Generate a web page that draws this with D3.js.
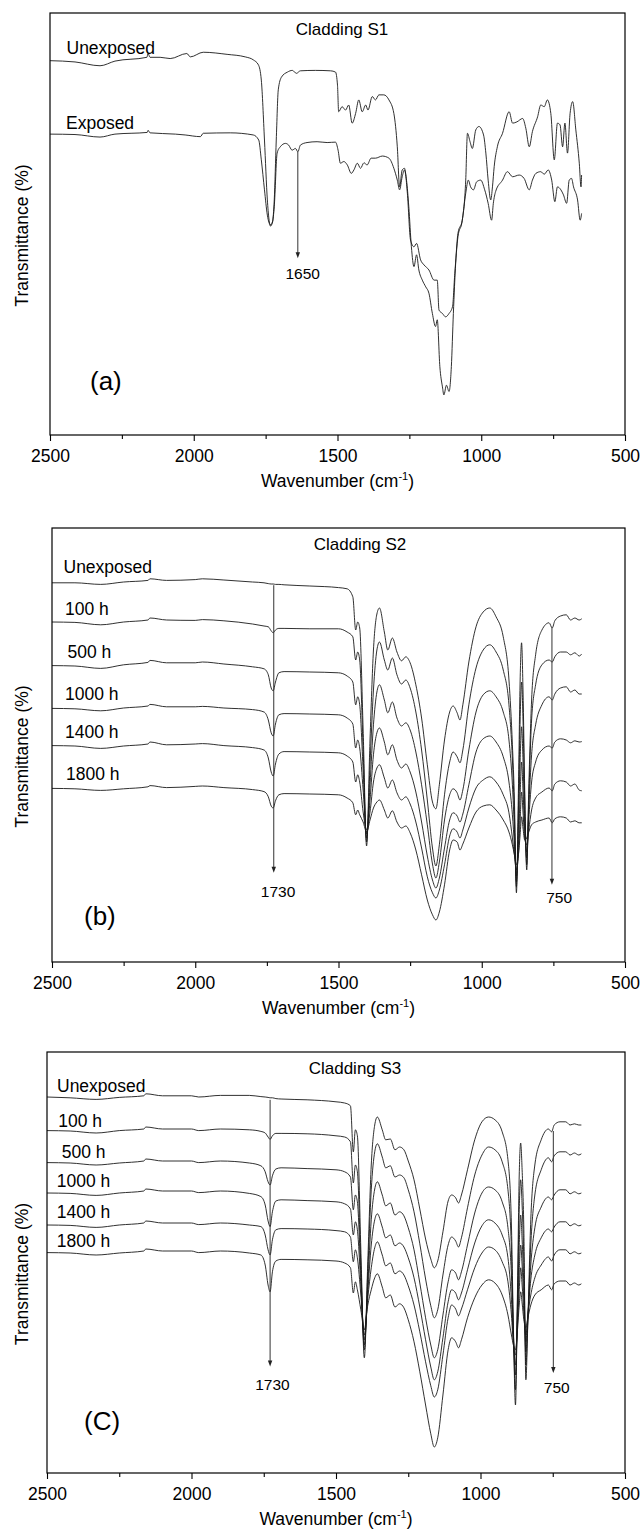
<!DOCTYPE html>
<html>
<head>
<meta charset="utf-8">
<script src="https://cdn.jsdelivr.net/npm/d3@7"></script>
<style>
  body { margin: 0; background: #fff; }
  svg text { fill: #000; }
</style>
</head>
<body>
<div id="chart"></div>
<script>
/* CONSTANTS AND GLOBALS */
const width = 640,
  height = 1530,
  fontFamily = '"Liberation Sans", Arial, Helvetica, sans-serif',
  traceColor = "#1a1a1a";

let svg;

/* DATA */
// x axis ticks (cm-1)
const majorTicks = [2500, 2000, 1500, 1000, 500];
const minorTicks = [2250, 1750, 1250, 750];

// Cladding S1 : [wavenumber, transmittance]
const s1Unexposed = [[2500,88.7],[2413,88.4],[2326,87.5],[2274,88.6],[2163,89.5],[2159,90.4],[2152,89.5],[2117,89.5],[2082,89.2],[2024,90.4],[2012,89.6],[1967,90.7],[1884,90.2],[1821,89.6],[1793,88.9],[1775,87.7],[1765,84.1],[1754,69.9],[1744,55.7],[1733,49.5],[1726,50.5],[1720,55.7],[1713,69.9],[1706,81.8],[1695,84.8],[1674,86.0],[1657,86.4],[1643,85.7],[1629,86.3],[1577,86.4],[1524,86.3],[1507,86.0],[1500,82.9],[1496,76.6],[1484,77.8],[1472,77.0],[1461,78.2],[1449,73.9],[1437,76.2],[1426,79.4],[1414,76.6],[1402,78.2],[1394,77.0],[1379,80.2],[1368,79.4],[1356,80.6],[1339,80.6],[1321,79.4],[1304,76.2],[1292,68.3],[1284,58.8],[1275,62.8],[1267,63.2],[1257,57.3],[1246,46.2],[1234,44.6],[1225,45.4],[1211,41.5],[1199,40.3],[1182,39.1],[1164,36.7],[1153,36.7],[1147,29.6],[1135,28.8],[1124,28.0],[1112,28.8],[1100,30.4],[1092,38.3],[1081,47.0],[1066,50.9],[1054,60.4],[1048,71.5],[1039,69.5],[1031,67.9],[1019,72.3],[1008,73.1],[992,71.1],[984,66.8],[976,60.4],[967,55.7],[961,58.8],[955,63.6],[944,68.3],[926,71.5],[903,76.6],[891,73.9],[876,74.2],[856,75.0],[845,72.7],[833,68.3],[822,71.9],[804,75.4],[793,78.2],[781,77.8],[770,79.4],[758,76.2],[746,65.2],[735,73.9],[726,73.5],[717,68.3],[709,73.9],[700,66.8],[691,76.2],[682,79.0],[671,72.3],[659,64.4],[653,58.8],[651,61.6]];

const s1Exposed = [[2500,71.3],[2413,71.2],[2326,70.6],[2274,71.3],[2162,71.7],[2159,72.2],[2152,71.6],[2064,71.3],[2030,71.1],[1977,70.7],[1967,71.5],[1873,71.6],[1793,71.1],[1774,69.9],[1765,65.2],[1754,58.1],[1744,52.1],[1733,49.8],[1726,50.5],[1720,54.1],[1710,66.8],[1699,68.3],[1681,69.1],[1670,68.7],[1658,67.5],[1646,67.9],[1638,67.1],[1629,68.7],[1606,69.3],[1571,69.5],[1536,69.3],[1507,69.4],[1498,67.5],[1490,64.4],[1478,64.8],[1466,64.0],[1452,62.0],[1443,62.8],[1431,64.4],[1420,63.2],[1408,64.5],[1397,64.0],[1383,65.6],[1368,65.6],[1344,66.1],[1321,65.6],[1304,63.2],[1292,60.4],[1284,58.1],[1275,61.2],[1267,62.8],[1260,60.4],[1252,54.1],[1243,44.6],[1234,39.9],[1225,42.7],[1217,39.1],[1205,36.7],[1193,35.1],[1182,33.6],[1170,28.8],[1159,25.7],[1153,27.3],[1144,16.2],[1135,11.4],[1130,9.5],[1121,11.8],[1112,10.3],[1104,16.2],[1097,28.8],[1089,40.7],[1081,47.8],[1066,50.9],[1054,57.3],[1045,60.4],[1037,58.8],[1027,58.1],[1016,60.0],[1002,60.4],[988,58.1],[976,54.9],[964,50.9],[958,54.9],[950,57.7],[926,60.4],[909,62.4],[891,61.2],[868,61.6],[851,60.8],[833,58.1],[822,60.4],[810,62.0],[793,62.4],[781,61.8],[767,62.8],[755,60.4],[744,55.3],[735,58.8],[723,58.1],[714,56.9],[703,54.9],[694,60.4],[686,60.8],[679,58.8],[665,55.7],[656,50.9],[651,52.5]];

// shared wavenumber grid for Cladding S2 and S3
const wnGrid = [2500,2420,2330,2250,2165,2158,2100,2000,1975,1900,1800,1760,1745,1735,1728,1720,1708,1690,1600,1500,1470,1450,1440,1433,1426,1414,1402,1390,1378,1366,1357,1340,1328,1312,1296,1280,1265,1250,1230,1210,1190,1172,1160,1148,1130,1112,1100,1086,1076,1066,1045,1020,995,972,950,925,905,893,886,879,872,866,861,856,850,843,836,826,812,790,765,754,745,725,705,690,675,660,651];

// Cladding S2 transmittance on wnGrid
const s2Unexposed = [94.8,94.8,94.4,95.0,95.4,95.8,95.4,95.6,95.8,95.5,95.0,94.8,94.6,94.5,94.5,94.4,94.4,94.3,94.0,93.6,93.3,91.3,83.0,85.0,83.5,58.0,29.0,55.5,78.0,87.0,88.5,82.5,78.0,81.0,77.5,75.3,76.3,74.8,69.3,61.0,49.3,40.0,38.3,44.3,55.5,62.5,64.0,62.3,60.5,64.3,75.0,83.8,87.5,88.5,86.3,81.3,70.5,54.3,40.5,17.3,43.0,70.5,79.8,68.0,43.0,23.0,43.0,65.5,76.8,83.0,84.8,83.5,85.3,86.5,86.8,85.5,86.0,85.5,85.8];
const s2H100 = [85.0,84.9,84.3,85.0,85.5,86.0,85.5,85.4,85.6,85.3,84.5,84.0,83.8,82.8,82.3,83.0,83.4,83.4,83.3,83.3,82.5,81.3,75.5,77.5,75.5,53.0,30.0,49.3,68.0,78.0,80.0,75.5,73.0,76.0,71.8,69.5,70.5,68.5,62.5,53.0,40.5,28.5,24.0,29.3,41.8,50.0,52.5,51.3,49.8,53.0,64.3,73.5,78.0,79.3,77.5,73.0,64.3,50.5,36.8,18.8,38.0,60.5,70.0,60.5,40.5,24.3,40.5,60.5,69.3,74.3,75.5,75.0,76.3,77.5,77.5,76.8,77.3,76.5,77.0];
const s2H500 = [74.1,74.0,73.4,74.3,74.9,75.4,74.8,74.8,75.0,74.5,73.8,73.3,71.8,68.5,67.8,70.0,72.3,72.6,72.5,72.3,71.5,70.0,64.3,66.3,64.3,48.0,31.0,44.3,59.3,67.5,69.3,65.5,62.3,65.0,61.0,59.0,59.8,58.0,52.5,44.3,34.3,24.5,21.0,25.0,35.5,41.8,43.3,42.3,40.5,43.0,53.0,62.5,66.8,67.8,66.3,62.5,55.5,44.3,33.0,20.0,34.3,50.5,58.8,50.5,35.5,26.0,38.0,51.8,59.3,64.3,66.3,65.5,67.0,68.5,68.8,67.5,68.0,67.0,67.0];
const s2H1000 = [63.4,63.3,62.8,63.5,64.0,64.4,63.8,63.8,63.9,63.5,63.1,62.5,60.5,57.3,56.5,59.5,61.8,62.1,62.0,61.8,61.0,59.5,53.5,55.5,53.5,43.0,32.0,40.5,51.8,57.3,58.5,55.0,51.8,54.3,50.5,48.5,49.5,47.5,42.5,35.0,26.5,20.5,18.5,21.0,28.5,35.5,37.3,36.5,35.0,37.0,44.3,52.5,55.8,56.5,55.0,51.3,45.0,36.8,29.3,21.5,29.3,41.8,50.0,43.0,33.0,27.5,35.5,45.0,50.0,53.0,54.0,53.5,55.0,55.8,55.5,54.8,55.3,55.0,55.1];
const s2H1400 = [54.1,54.0,53.4,54.0,54.5,55.0,54.3,54.5,54.6,54.1,53.6,53.0,51.0,47.5,46.5,49.5,52.0,52.6,52.5,52.3,51.5,50.0,45.0,46.8,45.0,37.5,33.0,37.5,45.0,48.5,49.3,46.0,43.5,45.5,42.3,40.5,41.3,39.5,35.0,28.5,21.3,17.3,16.0,18.0,24.3,31.5,33.3,32.5,31.0,33.0,38.5,43.5,45.5,46.3,45.0,41.8,37.3,31.0,26.8,23.0,26.8,35.5,42.5,37.5,31.0,29.3,33.0,38.0,41.0,42.5,43.5,42.8,44.5,45.3,45.0,44.0,44.5,43.0,42.8];
const s2H1800 = [43.4,43.3,42.9,43.3,43.8,44.1,43.6,43.9,44.0,43.6,43.1,42.6,41.3,39.0,38.5,40.3,41.8,42.1,42.0,41.8,41.0,39.8,36.8,38.0,36.8,35.0,32.5,35.5,38.5,40.0,40.5,38.0,36.0,37.8,35.0,33.5,34.0,32.3,28.0,21.8,15.5,11.8,10.5,12.5,19.3,28.0,30.5,30.0,28.0,29.5,33.5,37.5,39.0,39.3,38.0,35.5,32.5,29.3,26.8,24.3,26.8,31.8,36.3,33.5,30.5,31.0,32.5,34.3,35.0,35.5,36.0,34.8,35.8,36.3,36.0,35.0,35.3,34.8,34.8];

// Cladding S3 transmittance on wnGrid
const s3Unexposed = [94.0,93.8,93.4,93.9,94.3,94.8,94.3,94.3,94.0,94.4,94.4,94.1,94.0,93.9,93.8,93.8,93.6,93.5,93.3,92.8,92.5,91.8,80.3,85.8,84.3,55.8,28.8,52.8,77.0,87.0,89.0,85.8,83.3,83.5,80.8,81.5,80.8,78.0,73.3,66.0,58.5,53.5,51.3,53.0,60.3,68.0,69.5,68.8,67.5,69.5,75.8,83.3,87.8,89.0,88.3,85.3,78.3,62.0,35.8,17.0,45.8,74.5,82.5,75.8,60.8,23.3,38.3,63.3,77.0,83.3,86.0,85.3,87.0,87.8,87.8,87.0,87.3,87.0,87.0];
const s3H100 = [85.6,85.5,85.0,85.6,86.0,86.5,86.0,86.0,85.6,86.0,85.8,85.4,85.0,84.0,83.4,84.3,84.9,84.9,84.8,84.3,84.0,82.8,72.5,77.0,75.3,52.0,30.8,50.3,70.8,80.3,82.3,79.0,76.3,76.8,74.0,74.5,73.8,70.8,65.3,57.3,48.5,41.8,38.8,40.8,49.5,57.0,59.0,58.0,56.5,58.8,66.3,74.5,79.5,81.5,80.8,77.8,70.8,55.8,34.5,20.8,43.3,65.8,73.3,67.0,53.3,27.0,38.3,57.0,69.5,75.8,78.8,77.8,79.3,80.3,80.3,79.5,80.0,79.5,79.8];
const s3H500 = [77.6,77.5,77.0,77.5,78.0,78.5,78.0,78.0,77.6,78.0,77.5,76.8,75.3,72.8,72.0,74.3,76.0,76.3,76.1,75.8,75.3,74.0,65.8,69.5,67.8,49.5,32.0,47.0,63.3,71.0,72.8,69.5,66.8,67.5,64.5,65.3,64.3,61.3,55.8,47.5,38.8,32.0,28.8,30.8,39.5,47.8,50.8,50.0,48.3,50.3,57.0,65.0,70.0,71.5,70.8,67.8,61.3,49.5,34.5,24.5,40.8,57.0,64.5,58.3,47.0,30.3,38.8,52.0,61.3,66.5,69.0,68.3,69.5,70.8,70.8,69.8,70.3,69.8,70.0];
const s3H1000 = [70.0,69.9,69.4,70.0,70.5,71.0,70.5,70.5,70.1,70.5,69.9,69.1,67.0,63.0,61.6,65.3,68.0,68.3,68.1,67.8,67.3,66.0,59.5,62.8,60.8,47.0,33.3,45.3,57.0,63.3,64.8,61.5,58.8,59.5,56.8,57.5,56.5,53.8,48.8,41.5,33.3,26.5,23.3,25.3,33.8,42.8,45.8,45.0,43.3,45.0,50.8,57.5,61.8,63.3,62.5,59.5,53.8,43.3,33.3,27.0,38.3,50.8,57.0,52.0,43.3,32.8,39.5,48.3,54.5,58.8,61.0,60.3,61.5,62.8,62.8,61.8,62.3,61.8,62.0];
const s3H1400 = [62.0,61.9,61.4,62.0,62.5,63.0,62.5,62.5,62.1,62.5,62.0,61.6,59.5,55.8,54.5,58.3,60.8,61.1,61.0,60.6,60.3,59.0,52.8,55.8,53.8,44.5,34.5,43.8,51.3,56.3,57.8,54.5,51.8,52.5,49.8,50.5,49.5,46.8,42.0,35.3,27.8,21.8,19.0,20.8,29.5,38.8,42.0,41.0,39.3,41.0,45.8,51.3,55.0,56.5,55.8,52.8,47.8,39.5,32.0,29.5,37.0,45.8,51.3,47.0,40.3,34.5,39.5,44.5,48.8,52.0,54.0,53.0,54.5,55.8,55.8,54.8,55.3,54.8,55.0];
const s3H1800 = [55.1,55.0,54.5,55.0,55.5,56.0,55.5,55.5,55.1,55.5,55.0,54.5,52.0,47.0,45.3,50.3,53.0,53.4,53.3,53.0,52.5,51.3,45.0,47.8,45.8,40.8,35.8,42.0,45.8,48.8,49.8,46.5,43.8,44.5,41.5,42.3,41.3,38.3,32.8,25.3,17.0,9.8,6.5,8.8,19.5,30.8,33.8,32.8,31.3,33.3,38.8,43.8,47.0,48.3,47.5,44.5,39.5,34.5,32.0,30.8,35.8,42.0,45.3,42.5,38.3,36.3,38.8,42.0,44.5,45.8,47.0,45.8,47.3,48.0,48.0,47.0,47.5,47.0,47.3];

const s1Names = ["Unexposed", "Exposed"];
const timeNames = ["Unexposed", "100 h", "500 h", "1000 h", "1400 h", "1800 h"];

// peak markers: arrow from a curve down to a label
const notesS1 = [{ wn: 1638, from: 67.1, to: 41.9, text: "1650", textWn: 1621, textT: 36.9 }];
const notesS2 = [
  { wn: 1726, from: 94.2, to: 22.3, text: "1730", textWn: 1711, textT: 16.3 },
  { wn: 755, from: 83.6, to: 19.3, text: "750", textWn: 730, textT: 14.8 }
];
const notesS3 = [
  { wn: 1728, from: 93.3, to: 26.6, text: "1730", textWn: 1720, textT: 20.8 },
  { wn: 748, from: 85.5, to: 25.0, text: "750", textWn: 736, textT: 20.0 }
];

// zip the grid with a transmittance list
const onGrid = vals => wnGrid.map((w, i) => [w, vals[i]]);

/* LAYOUT */
const panels = [
  {
    box: { left: 50, right: 625, top: 13, bottom: 435 }, yMax: 100,
    title: "Cladding S1", titleX: 342, letter: "(a)", letterXY: [90, 389.5],
    series: [s1Unexposed, s1Exposed], names: s1Names,
    nameXY: [[66.5, 54], [66, 128.7]], notes: notesS1
  },
  {
    box: { left: 52, right: 625, top: 528, bottom: 962 }, yMax: 108.5,
    title: "Cladding S2", titleX: 360, letter: "(b)", letterXY: [84, 924.5],
    series: [s2Unexposed, s2H100, s2H500, s2H1000, s2H1400, s2H1800].map(onGrid), names: timeNames,
    nameXY: [[63.5, 573], [65, 615], [67.5, 658.3], [65, 700], [65, 738.3], [66, 780]], notes: notesS2
  },
  {
    box: { left: 47, right: 625, top: 1052, bottom: 1473 }, yMax: 105.25,
    title: "Cladding S3", titleX: 355, letter: "(C)", letterXY: [84, 1429.5],
    series: [s3Unexposed, s3H100, s3H500, s3H1000, s3H1400, s3H1800].map(onGrid), names: timeNames,
    nameXY: [[57, 1092], [58.3, 1126.7], [61.7, 1158.3], [56.7, 1187.3], [56.7, 1218.3], [56.7, 1246.7]], notes: notesS3
  }
];

/* INIT */
function init() {
  svg = d3.select("#chart")
    .append("svg")
    .attr("width", width)
    .attr("height", height)
    .attr("font-family", fontFamily);

  svg.append("rect").attr("width", width).attr("height", height).attr("fill", "#fff");

  panels.forEach(drawPanel);
}

/* DRAW ONE PANEL */
function drawPanel(p) {
  const b = p.box;
  const xScale = d3.scaleLinear().domain([2500, 500]).range([b.left, b.right]);
  const yScale = d3.scaleLinear().domain([0, p.yMax]).range([b.bottom, b.top]);
  const g = svg.append("g");

  // spectra
  const line = d3.line()
    .x(d => xScale(d[0]))
    .y(d => yScale(d[1]))
    .curve(d3.curveMonotoneX);

  g.selectAll("path.trace")
    .data(p.series)
    .join("path")
    .attr("class", "trace")
    .attr("d", line)
    .attr("fill", "none")
    .attr("stroke", traceColor)
    .attr("stroke-width", 0.9)
    .attr("stroke-linejoin", "round");

  // frame
  g.append("rect")
    .attr("x", b.left).attr("y", b.top)
    .attr("width", b.right - b.left).attr("height", b.bottom - b.top)
    .attr("fill", "none").attr("stroke", "#000").attr("stroke-width", 1.2);

  // bottom axis, major and minor ticks
  const axisG = g.append("g").attr("transform", `translate(0,${b.bottom})`);
  axisG.call(d3.axisBottom(xScale)
      .tickValues(majorTicks).tickSize(6).tickSizeOuter(0).tickPadding(8.6)
      .tickFormat(d3.format("d")))
    .attr("font-size", 17.5).attr("font-family", fontFamily);
  axisG.select(".domain").remove();

  const minorG = g.append("g").attr("transform", `translate(0,${b.bottom})`);
  minorG.call(d3.axisBottom(xScale).tickValues(minorTicks).tickSize(4).tickSizeOuter(0).tickFormat(""));
  minorG.select(".domain").remove();
  g.selectAll(".tick line").attr("stroke", "#000").attr("stroke-width", 1.1);

  // title
  g.append("text")
    .attr("x", p.titleX).attr("y", b.top + 22)
    .attr("text-anchor", "middle").attr("font-size", 17)
    .text(p.title);

  // axis titles
  const xl = g.append("text")
    .attr("x", (b.left + b.right) / 2).attr("y", b.bottom + 52)
    .attr("text-anchor", "middle").attr("font-size", 17.5);
  xl.append("tspan").text("Wavenumber (cm");
  xl.append("tspan").attr("dy", -7).attr("font-size", 11).text("-1");
  xl.append("tspan").attr("dy", 7).text(")");

  g.append("text")
    .attr("transform", `translate(27.5,${(b.top + b.bottom) / 2 + 11.5}) rotate(-90)`)
    .attr("text-anchor", "middle").attr("font-size", 17.5)
    .text("Transmittance (%)");

  // series names
  g.selectAll("text.name")
    .data(p.names)
    .join("text")
    .attr("class", "name")
    .attr("x", (d, i) => p.nameXY[i][0])
    .attr("y", (d, i) => p.nameXY[i][1])
    .attr("font-size", 17.5)
    .text(d => d);

  // panel letter
  g.append("text")
    .attr("x", p.letterXY[0]).attr("y", p.letterXY[1])
    .attr("font-size", 26)
    .text(p.letter);

  // arrows
  p.notes.forEach(n => {
    const ax = xScale(n.wn), y0 = yScale(n.from), y1 = yScale(n.to);
    g.append("line")
      .attr("x1", ax).attr("x2", ax).attr("y1", y0).attr("y2", y1 - 4)
      .attr("stroke", "#333").attr("stroke-width", 1);
    g.append("path")
      .attr("d", `M${ax - 2.2},${y1 - 6}L${ax + 2.2},${y1 - 6}L${ax},${y1}Z`)
      .attr("fill", "#222");
    g.append("text")
      .attr("x", xScale(n.textWn)).attr("y", yScale(n.textT))
      .attr("text-anchor", "middle").attr("font-size", 15.5)
      .text(n.text);
  });
}

init();
</script>
</body>
</html>
